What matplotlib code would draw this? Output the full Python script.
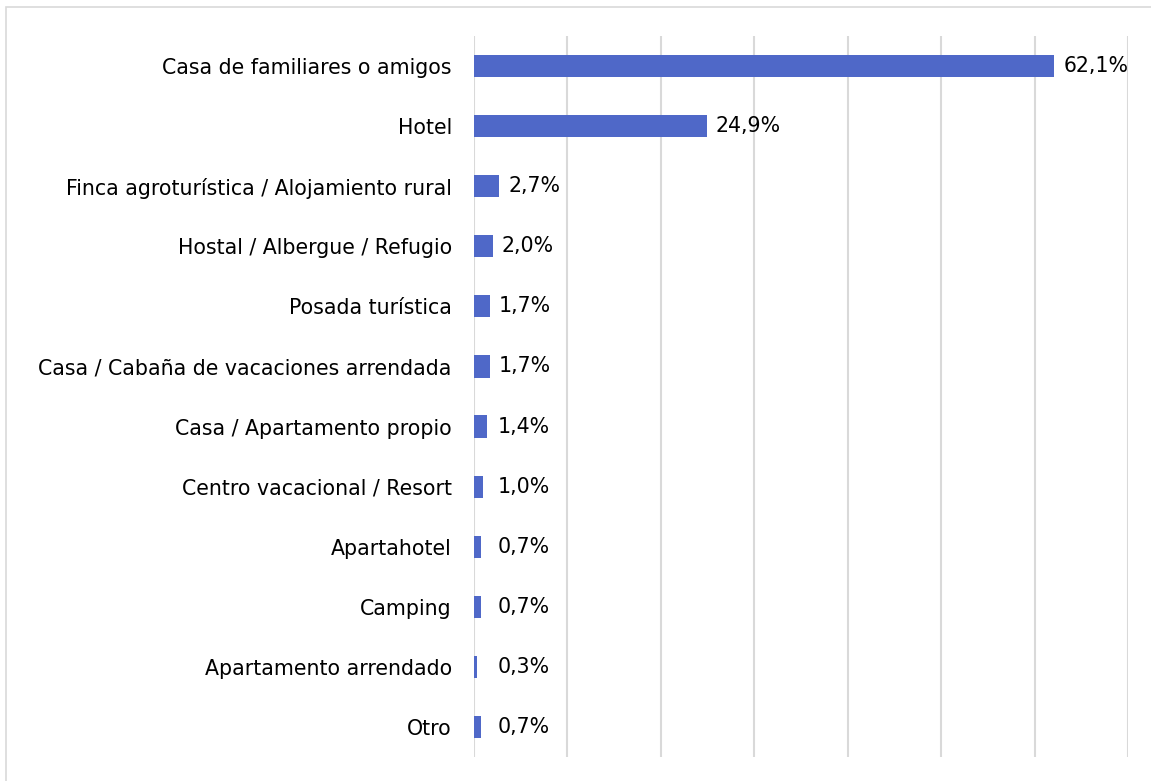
import matplotlib.pyplot as plt
import matplotlib.patches as mpatches
import numpy as np

plt.rcParams['font.family'] = 'DejaVu Sans'

categorias = ['Casa de familiares o amigos', 'Hotel',
              'Finca agroturística / Alojamiento rural',
              'Hostal / Albergue / Refugio', 'Posada turística',
              'Casa / Cabaña de vacaciones arrendada',
              'Casa / Apartamento propio', 'Centro vacacional / Resort',
              'Apartahotel', 'Camping', 'Apartamento arrendado', 'Otro']
valores = [62.1, 24.9, 2.7, 2.0, 1.7, 1.7, 1.4, 1.0, 0.7, 0.7, 0.3, 0.7]
etiquetas = ['62,1%', '24,9%', '2,7%', '2,0%', '1,7%', '1,7%', '1,4%',
             '1,0%', '0,7%', '0,7%', '0,3%', '0,7%']

color_barra = '#4F68C8'
color_grid = '#D9D9D9'
fs = 14.8

fig = plt.figure(figsize=(11.51, 7.81), dpi=100)
ax = fig.add_axes([474/1151, 1-757/781, (1128-474)/1151, (757-36)/781])

y = np.arange(len(categorias))
ax.barh(y, valores, height=0.37, color=color_barra, zorder=3)

for yi, v, t in zip(y, valores, etiquetas):
    ax.annotate(t, xy=(max(v, 1.6), yi), xytext=(9, 0), textcoords='offset pixels',
                va='center', ha='left', fontsize=fs, color='black')

ax.set_xlim(0, 70)
ax.set_ylim(len(categorias)-0.5, -0.5)
ax.set_xticks(np.arange(0, 71, 10))
ax.set_xticklabels([])
ax.set_yticks(y)
ax.set_yticklabels(categorias, fontsize=fs)
ax.tick_params(axis='both', length=0)
ax.tick_params(axis='y', pad=16)
ax.grid(axis='x', color=color_grid, linewidth=1.5, zorder=0)
for s in ax.spines.values():
    s.set_visible(False)

# marco exterior
fig.patches.append(mpatches.Rectangle((6/1151, -0.1), 1.2, 1-7/781+0.1,
                                      transform=fig.transFigure, fill=False,
                                      edgecolor='#D9D9D9', linewidth=1.2))

fig.savefig('out.png', dpi=100)
